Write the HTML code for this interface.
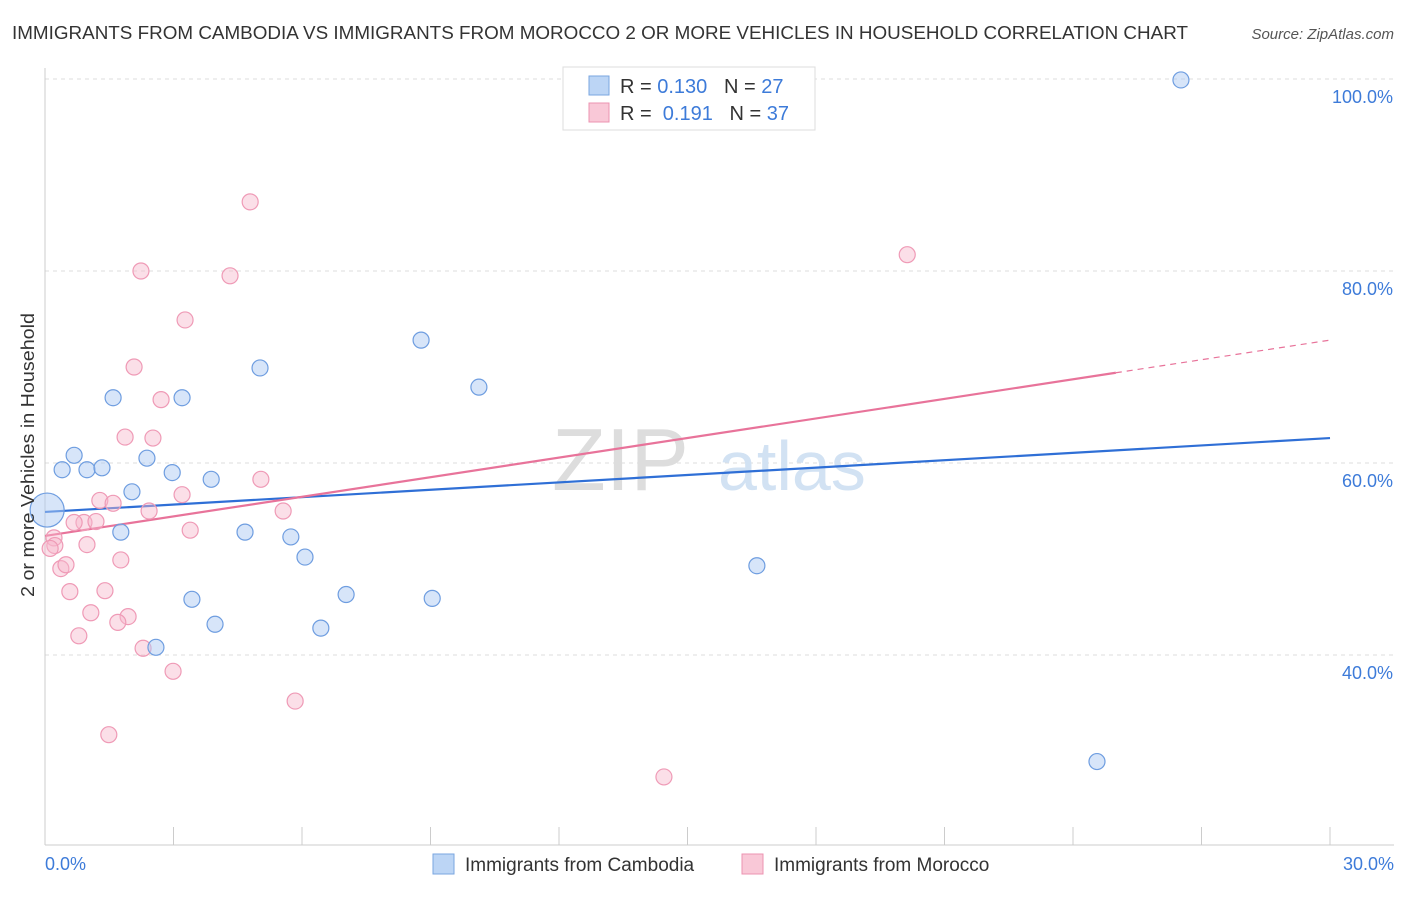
<!DOCTYPE html>
<html><head><meta charset="utf-8"><style>
body{margin:0;background:#fff;font-family:"Liberation Sans",sans-serif;}
svg text{font-family:"Liberation Sans",sans-serif;}
</style></head><body>
<svg id="chart" width="1406" height="892">
<text x="12" y="39" font-size="18" fill="#333" textLength="1176" lengthAdjust="spacingAndGlyphs">IMMIGRANTS FROM CAMBODIA VS IMMIGRANTS FROM MOROCCO 2 OR MORE VEHICLES IN HOUSEHOLD CORRELATION CHART</text>
<text x="1394" y="39" font-size="15" fill="#555" font-style="italic" text-anchor="end">Source: ZipAtlas.com</text>
<g id="grid"></g>
<g><text x="552" y="490" font-size="88" fill="#ddd" font-family="Liberation Serif">ZIP</text><text x="718" y="490" font-size="70" fill="#d2e2f3">atlas</text></g>
<g id="axes"></g>
<g id="trends"></g>
<g id="points"></g>
<text transform="translate(34,455) rotate(-90)" font-size="18" fill="#333" text-anchor="middle" textLength="284" lengthAdjust="spacingAndGlyphs">2 or more Vehicles in Household</text>
<g>
<rect x="563" y="67" width="252" height="63" fill="#fff" stroke="#ddd"/>
<rect x="589" y="76" width="20" height="19" fill="#bcd5f5" stroke="#7aa6e0"/>
<rect x="589" y="103" width="20" height="19" fill="#f9c8d7" stroke="#ec93b1"/>
<text x="620" y="93" font-size="20" fill="#333">R = <tspan fill="#3d7bd9">0.130</tspan>&#160;&#160;&#160;N = <tspan fill="#3d7bd9">27</tspan></text>
<text x="620" y="120" font-size="20" fill="#333">R = &#160;<tspan fill="#3d7bd9">0.191</tspan>&#160;&#160;&#160;N = <tspan fill="#3d7bd9">37</tspan></text>
</g>
<g>
<rect x="433" y="854" width="21" height="20" fill="#bcd5f5" stroke="#7aa6e0"/>
<text x="465" y="871" font-size="19" fill="#333">Immigrants from Cambodia</text>
<rect x="742" y="854" width="21" height="20" fill="#f9c8d7" stroke="#ec93b1"/>
<text x="774" y="871" font-size="19" fill="#333">Immigrants from Morocco</text>
</g>
</svg>
<script>
const cambodiaX=[0.05,0.40,0.68,0.98,1.33,1.59,1.77,2.03,2.38,2.59,2.97,3.20,3.43,3.88,3.97,4.67,5.02,5.74,6.07,6.44,7.03,8.78,9.04,10.13,16.62,24.56,26.52];
const cambodiaY=[55.1,59.3,60.8,59.3,59.5,66.8,52.8,57.0,60.5,40.8,59.0,66.8,45.8,58.3,43.2,52.8,69.9,52.3,50.2,42.8,46.3,72.8,45.9,67.9,49.3,28.9,99.9];
const moroccoX=[4.79,2.24,4.32,3.27,2.08,2.71,1.87,2.52,5.04,3.20,1.28,1.59,2.43,5.56,0.91,0.68,1.19,3.39,0.21,0.23,0.98,1.77,0.37,0.49,0.58,1.40,1.07,1.94,1.70,0.79,2.29,2.99,5.84,1.49,14.45,20.13,0.12];
const moroccoY=[87.2,80.0,79.5,74.9,70.0,66.6,62.7,62.6,58.3,56.7,56.1,55.8,55.0,55.0,53.8,53.8,53.9,53.0,52.2,51.4,51.5,49.9,49.0,49.4,46.6,46.7,44.4,44.0,43.4,42.0,40.7,38.3,35.2,31.7,27.3,81.7,51.1];
const yTicks=[40,60,80,100];
const yTickLabels=["40.0%","60.0%","80.0%","100.0%"];
const xTicks=[0,3,6,9,12,15,18,21,24,27,30];
const cambodiaTrend=[54.9,62.6];
const moroccoTrend=[52.4,72.8];
const moroccoSolidEnd=25;
const NS="http://www.w3.org/2000/svg";
const X=v=>45+v*(1285/30), Y=v=>1039-v*9.6;
function mk(t,a,p){const e=document.createElementNS(NS,t);for(const k in a)e.setAttribute(k,a[k]);p.appendChild(e);return e;}
const grid=document.getElementById('grid'),axes=document.getElementById('axes');
yTicks.forEach((t,i)=>{
 const l=mk('line',{x1:45,x2:1394,y1:Y(t),y2:Y(t),stroke:'#ddd','stroke-dasharray':'4,4'},grid);
 
 
 const tx=mk('text',{x:1393,y:Y(t)+24,'font-size':18,fill:'#3d7bd9','text-anchor':'end'},axes);
 tx.textContent=yTickLabels[i];
 
 
});
const xa=mk('line',{x1:45,x2:1394,y1:845,y2:845,stroke:'#ccc'},axes);


const ya=mk('line',{x1:45,x2:45,y1:68,y2:845,stroke:'#ccc'},axes);


xTicks.forEach(t=>{
 const l=mk('line',{x1:X(t),x2:X(t),y1:827,y2:845,stroke:'#ccc'},axes);
 
 
});
[[0,'0.0%','start',45],[30,'30.0%','end',1394]].forEach(a=>{
 const t=mk('text',{x:a[3],y:870,'font-size':18,fill:'#3d7bd9','text-anchor':a[2]},axes);
 t.textContent=a[1];
 
 
});
const tr=document.getElementById('trends');
const bl=mk('line',{x1:X(0),y1:Y(cambodiaTrend[0]),x2:X(30),y2:Y(cambodiaTrend[1]),stroke:'#2f6fd6','stroke-width':2.2},tr);


const my=x=>moroccoTrend[0]+(moroccoTrend[1]-moroccoTrend[0])*x/30;
const pl=mk('line',{x1:X(0),y1:Y(my(0)),x2:X(moroccoSolidEnd),y2:Y(my(moroccoSolidEnd)),stroke:'#e8739a','stroke-width':2.2},tr);


const pd=mk('line',{x1:X(moroccoSolidEnd),y1:Y(my(moroccoSolidEnd)),x2:X(30),y2:Y(my(30)),stroke:'#e8739a','stroke-width':1.2,'stroke-dasharray':'6,5'},tr);


const pts=document.getElementById('points');
moroccoX.forEach((x,i)=>{
 const c=mk('circle',{cx:X(x),cy:Y(moroccoY[i]),r:8,fill:'rgba(246,184,204,0.45)',stroke:'#ef9ab6','stroke-width':1.2},pts);
 
 
});
cambodiaX.forEach((x,i)=>{
 const c=mk('circle',{cx:X(x),cy:Y(cambodiaY[i]),r:i===0?17:8,fill:'rgba(176,204,243,0.5)',stroke:'#6e9de0','stroke-width':1.2},pts);
 
 
});
</script>
</body></html>
